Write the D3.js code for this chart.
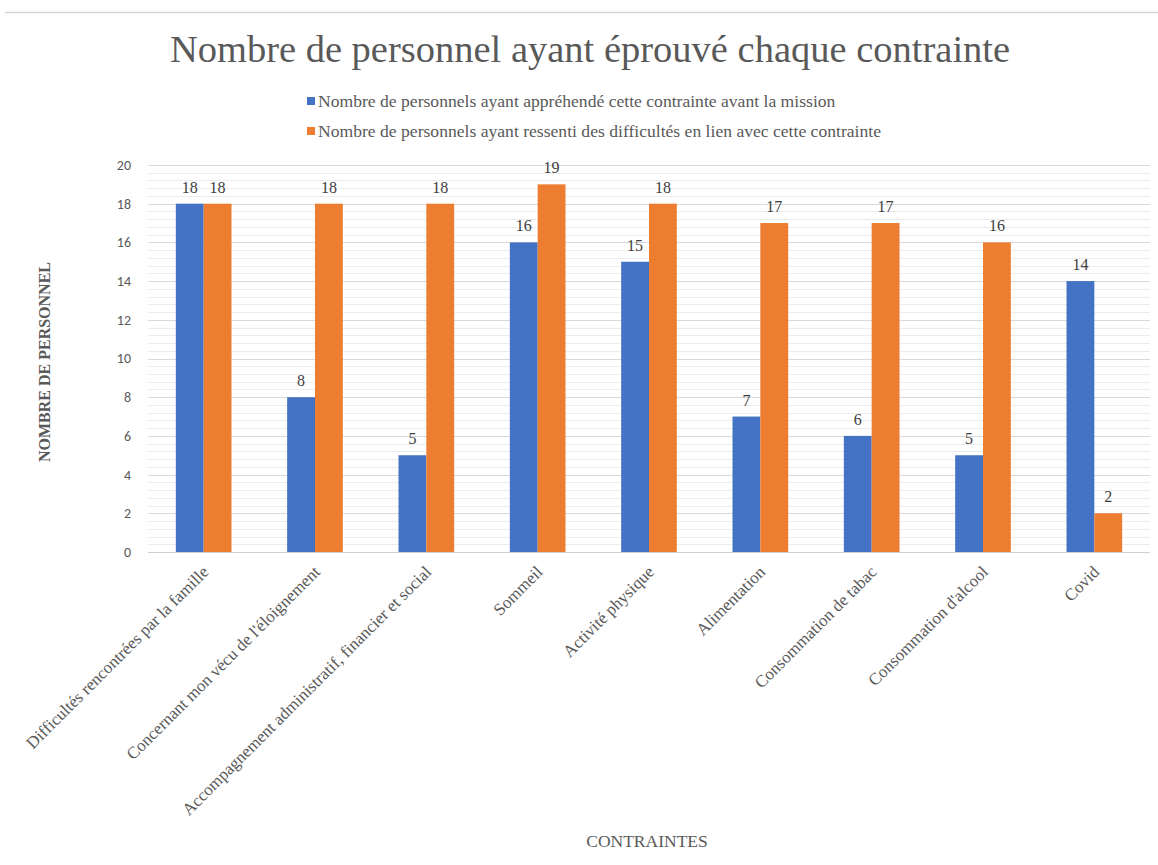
<!DOCTYPE html>
<html><head><meta charset="utf-8">
<script src="https://cdnjs.cloudflare.com/ajax/libs/d3/7.8.5/d3.min.js"></script>
<style>body{margin:0;background:#fff}</style>
</head><body>
<svg id="c" width="1158" height="865"></svg>
<script>
const categories = ["Difficultés rencontrées par la famille","Concernant mon vécu de l'éloignement","Accompagnement administratif, financier et social","Sommeil","Activité physique","Alimentation","Consommation de tabac","Consommation d'alcool","Covid"];
const seriesNames = ["Nombre de personnels ayant appréhendé cette contrainte avant la mission","Nombre de personnels ayant ressenti des difficultés en lien avec cette contrainte"];
const before = [18, 8, 5, 16, 15, 7, 6, 5, 14];
const felt = [18, 18, 18, 19, 18, 17, 17, 16, 2];
const yTicks = [0, 2, 4, 6, 8, 10, 12, 14, 16, 18, 20];
const colors = ["#4472C4", "#ED7D31"];

const svg = d3.select("#c");
const serif = "'Liberation Serif','Times New Roman',serif";
const sans = "Carlito,'Liberation Sans',Arial,sans-serif";

svg.append("line").attr("x1",5).attr("x2",1158).attr("y1",12.5).attr("y2",12.5).attr("stroke","#d4d4d4").attr("stroke-width",1.5);

const L = 148, R = 1150, T = 165, B = 552;
const x = d3.scaleBand().domain(categories).range([L, R]).paddingInner(0.5).paddingOuter(0.25);
const xs = d3.scaleBand().domain([0,1]).range([0, x.bandwidth()]);
const y = d3.scaleLinear().domain([0, 20]).range([B, T]);

// minor gridlines
const minor = d3.range(0, 20.001, 0.4).filter(v => Math.abs(v/2 - Math.round(v/2)) > 1e-6);
svg.append("g").selectAll("line").data(minor).join("line")
  .attr("x1", L).attr("x2", R).attr("y1", d => Math.round(y(d))+0.5).attr("y2", d => Math.round(y(d))+0.5)
  .attr("stroke", "#ececec").attr("stroke-width", 1);
// major gridlines
svg.append("g").selectAll("line").data(yTicks).join("line")
  .attr("x1", L).attr("x2", R).attr("y1", d => Math.round(y(d))+0.5).attr("y2", d => Math.round(y(d))+0.5)
  .attr("stroke", d => d===0 ? "#d0d0d0" : "#d9d9d9").attr("stroke-width", 1);

// y axis labels
const yAxis = d3.axisLeft(y).tickValues(yTicks).tickSize(0).tickPadding(17);
const ga = svg.append("g").attr("transform", `translate(${L},0)`).call(yAxis);
ga.select(".domain").remove();
ga.selectAll("text").attr("font-family", sans).attr("font-size", 14).attr("fill", "#595959");

// bars
const data = categories.map((c,i) => ({c, v:[before[i], felt[i]]}));
const grp = svg.append("g").selectAll("g").data(data).join("g").attr("transform", d => `translate(${x(d.c)},0)`);
grp.selectAll("rect").data(d => d.v.map((v,k)=>({v,k}))).join("rect")
  .attr("x", d => xs(d.k)).attr("width", xs.bandwidth())
  .attr("y", d => y(d.v)).attr("height", d => y(0) - y(d.v))
  .attr("fill", d => colors[d.k]);
grp.selectAll("text").data(d => d.v.map((v,k)=>({v,k}))).join("text")
  .attr("x", d => xs(d.k) + xs.bandwidth()/2).attr("y", d => y(d.v) - 11)
  .attr("text-anchor", "middle").attr("font-family", serif).attr("font-size", 16).attr("fill", "#404040")
  .text(d => d.v);

// x labels
svg.append("g").selectAll("text").data(categories).join("text")
  .attr("transform", d => `translate(${x(d) + x.bandwidth()/2 + 6},${B + 21}) rotate(-45)`)
  .attr("text-anchor", "end").attr("font-family", serif).attr("font-size", 17).attr("fill", "#595959")
  .text(d => d);

// title
svg.append("text").attr("x", 590).attr("y", 62).attr("text-anchor", "middle")
  .attr("font-family", serif).attr("font-size", 38.5).attr("fill", "#595959")
  .text("Nombre de personnel ayant éprouvé chaque contrainte");

// legend
seriesNames.forEach((s, i) => {
  const ly = 101 + i * 30;
  svg.append("rect").attr("x", 307).attr("y", ly - 4).attr("width", 8).attr("height", 8).attr("fill", colors[i]);
  svg.append("text").attr("x", 318).attr("y", ly + 5.5).attr("font-family", serif).attr("font-size", 17.6)
    .attr("fill", "#595959").text(s);
});

// axis titles
svg.append("text").attr("transform", "translate(50,362) rotate(-90)").attr("text-anchor", "middle")
  .attr("font-family", serif).attr("font-size", 16).attr("font-weight", "bold").attr("fill", "#595959")
  .text("NOMBRE DE PERSONNEL");
svg.append("text").attr("x", 647).attr("y", 847).attr("text-anchor", "middle")
  .attr("font-family", serif).attr("font-size", 17.5).attr("fill", "#595959").text("CONTRAINTES");
</script>
</body></html>
